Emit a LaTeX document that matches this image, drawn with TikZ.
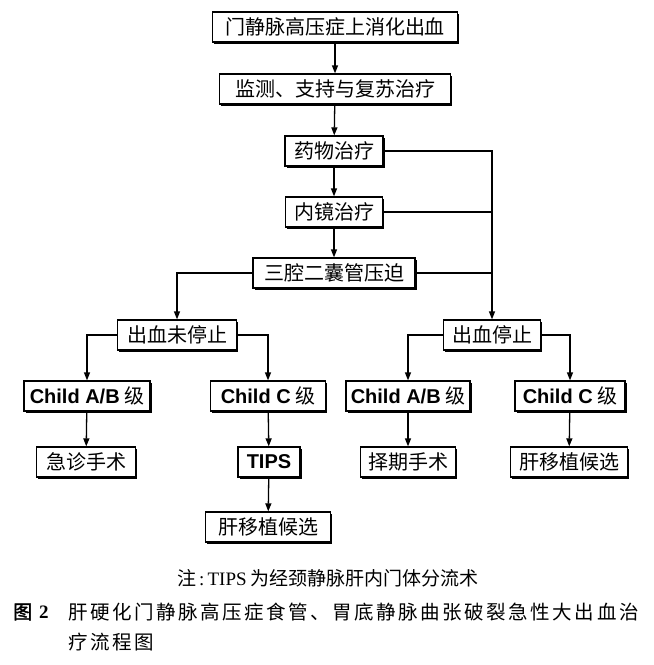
\documentclass[tikz,border=0pt]{standalone}
\usepackage{fontspec}
\setmainfont{Liberation Serif}
\setsansfont{Liberation Sans}
\newfontfamily\cjk{Noto Sans CJK SC}
\newfontfamily\cjkcap[LetterSpace=13]{Noto Sans CJK SC}
\newfontfamily\cjkbold[FakeBold=2]{Noto Sans CJK SC}
\usetikzlibrary{arrows.meta,shadows}
\begin{document}
\begin{tikzpicture}[x=1pt,y=-1pt,
  box/.style={draw=black, line width=1.3pt, fill=white, minimum height=30pt,
    inner xsep=4pt, inner ysep=0pt, font=\fontsize{20}{20}\selectfont\cjk,
    general shadow={fill=black, shadow xshift=1.6pt, shadow yshift=-1.6pt}},
  arr/.style={-{Triangle[length=8pt,width=6pt]}, line width=1.3pt},
  ln/.style={line width=1.3pt},
  txt/.style={inner sep=0pt}]
\useasboundingbox (0,0) rectangle (654,665);
\node[box, minimum width=245] (a) at (335,27) {门静脉高压症上消化出血};
\node[box, minimum width=231] (b) at (335,89) {监测、支持与复苏治疗};
\node[box, minimum width=98] (c) at (334,151) {药物治疗};
\node[box, minimum width=97] (d) at (334,212) {内镜治疗};
\node[box, minimum width=162] (e) at (334,273) {三腔二囊管压迫};
\node[box, minimum width=119] (f) at (177,335) {出血未停止};
\node[box, minimum width=97] (g) at (492,335) {出血停止};
\node[box, minimum width=126] (l1) at (87,396) {{\sffamily\bfseries Child A/B} 级};
\node[box, minimum width=115] (l2) at (268,396) {{\sffamily\bfseries Child C} 级};
\node[box, minimum width=124] (r1) at (408,396) {{\sffamily\bfseries Child A/B} 级};
\node[box, minimum width=110] (r2) at (570,396) {{\sffamily\bfseries Child C} 级};
\node[box, minimum width=99] (l1b) at (86,462) {急诊手术};
\node[box, minimum width=62] (tips) at (269,462) {{\sffamily\bfseries TIPS}};
\node[box, minimum width=95] (r1b) at (408,462) {择期手术};
\node[box, minimum width=117] (r2b) at (569,462) {肝移植候选};
\node[box, minimum width=125] (lv) at (268,527) {肝移植候选};
% connectors
\draw[arr] (a) -- (b);
\draw[arr] (b) -- (c);
\draw[arr] (c) -- (d);
\draw[arr] (d) -- (e);
\draw[arr] (c.east) -| (g.north);
\draw[ln] (d.east) -- (d.east -| g.north);
\draw[ln] (e.east) -- (e.east -| g.north);
\draw[arr] (e.west) -| (f.north);
\draw[arr] (f.west) -| (l1.north);
\draw[arr] (f.east) -| (l2.north);
\draw[arr] (g.west) -| (r1.north);
\draw[arr] (g.east) -| (r2.north);
\draw[arr] (l1) -- (l1b);
\draw[arr] (l2) -- (tips);
\draw[arr] (r1) -- (r1b);
\draw[arr] (r2) -- (r2b);
\draw[arr] (tips) -- (lv);
% notes
\node[txt] (note) at (328,578) {\fontsize{19}{19}\selectfont\cjk 注{\rmfamily\,:\,TIPS} 为经颈静脉肝内门体分流术};
\node[txt, anchor=west] (fig) at (13,612) {\fontsize{19}{19}\selectfont\cjkbold 图\hspace{7pt}{\rmfamily\bfseries 2}};
\node[txt, anchor=west] (cap1) at (68,612) {\fontsize{19.5}{19.5}\selectfont\cjkcap 肝硬化门静脉高压症食管、胃底静脉曲张破裂急性大出血治};
\node[txt, anchor=west] (cap2) at (68,642) {\fontsize{19.5}{19.5}\selectfont\cjkcap 疗流程图};
\end{tikzpicture}
\end{document}
